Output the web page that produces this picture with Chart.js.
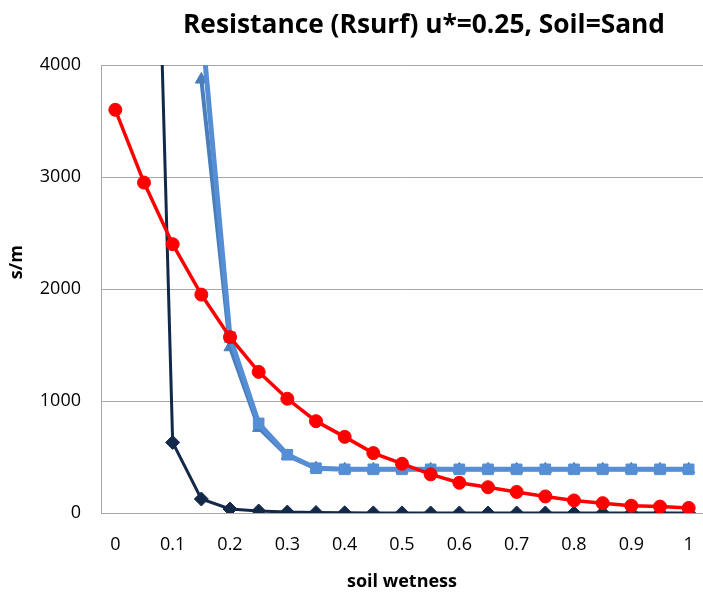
<!DOCTYPE html>
<html>
<head>
<meta charset="utf-8">
<script src="https://cdn.jsdelivr.net/npm/chart.js@4/dist/chart.umd.min.js"></script>
<style>
  html, body { margin: 0; padding: 0; background: #ffffff; }
  #wrap { width: 703px; height: 593px; }
</style>
</head>
<body>
<div id="wrap"><canvas id="c" width="703" height="593"></canvas></div>
<script>
// soil wetness categories (0 .. 1 in steps of 0.05)
const wetness = ['0','0.05','0.1','0.15','0.2','0.25','0.3','0.35','0.4','0.45','0.5',
                 '0.55','0.6','0.65','0.7','0.75','0.8','0.85','0.9','0.95','1'];

// surface resistance, s/m
const rsurfRed = [3600, 2950, 2400, 1950, 1570, 1260, 1020, 820, 680, 535, 440,
                  345, 270, 230, 188, 148, 112, 88, 65, 57, 45];
const rsurfNavy = [null, 9900, 630, 125, 36, 18, 8, 4, 2, 1, 1,
                   0, 0, 0, 0, 0, 0, 0, 0, 0, 0];
const rsurfSquare = [null, null, null, 4400, 1570, 800, 520, 400, 390, 390, 390,
                     390, 390, 390, 390, 390, 390, 390, 390, 390, 390];
const rsurfTriangle = [null, null, null, 3870, 1480, 760, 510, 400, 390, 390, 390,
                       390, 390, 390, 390, 390, 390, 390, 390, 390, 390];

const yTicks = [0, 1000, 2000, 3000, 4000];

const titleText = 'Resistance (Rsurf) u*=0.25, Soil=Sand';
const yLabel = 's/m';
const xLabel = 'soil wetness';

const FONT = '"Open Sans", "DejaVu Sans", sans-serif';

// chart title and rotated y-axis label
const textPlugin = {
  id: 'extraText',
  afterDraw(chart) {
    const ctx = chart.ctx;
    const area = chart.chartArea;
    ctx.save();
    ctx.fillStyle = '#000000';
    ctx.font = 'bold 27px ' + FONT;
    ctx.textAlign = 'center';
    ctx.textBaseline = 'alphabetic';
    ctx.fillText(titleText, 424, 33, 482);
    ctx.translate(17, area.top + (area.bottom - area.top) * 0.44);
    ctx.rotate(-Math.PI / 2);
    ctx.font = 'bold 18px ' + FONT;
    ctx.textBaseline = 'middle';
    ctx.fillText(yLabel, 0, 0);
    ctx.restore();
  }
};

new Chart(document.getElementById('c'), {
  type: 'line',
  data: {
    labels: wetness,
    datasets: [
      {
        data: rsurfRed,
        borderColor: '#ff0000',
        backgroundColor: '#ff0000',
        borderWidth: 3.5,
        pointStyle: 'circle',
        pointRadius: 6.5,
        pointBorderWidth: 1,
        order: 1
      },
      {
        data: rsurfNavy,
        borderColor: '#13294a',
        backgroundColor: '#13294a',
        borderWidth: 3,
        pointStyle: 'rectRot',
        pointRadius: 7,
        pointBorderWidth: 1,
        order: 2
      },
      {
        data: rsurfSquare,
        borderColor: '#558ed5',
        backgroundColor: '#558ed5',
        borderWidth: 5,
        pointStyle: 'rect',
        pointRadius: 7.5,
        pointBorderWidth: 1,
        order: 3
      },
      {
        data: rsurfTriangle,
        borderColor: '#4a7ebb',
        backgroundColor: '#4a7ebb',
        borderWidth: 4,
        pointStyle: 'triangle',
        pointRadius: 7,
        pointBorderWidth: 1,
        order: 4
      }
    ]
  },
  options: {
    responsive: false,
    animation: false,
    layout: { autoPadding: false, padding: { top: 65, right: 0, bottom: 0, left: 0 } },
    plugins: {
      legend: { display: false },
      title: { display: false },
      tooltip: { enabled: false }
    },
    elements: { line: { tension: 0 } },
    scales: {
      x: {
        type: 'category',
        offset: true,
        grid: { display: false, drawTicks: true, tickLength: 21 },
        border: { display: false },
        ticks: {
          autoSkip: false,
          maxRotation: 0,
          padding: 0,
          color: '#000000',
          font: { family: FONT, size: 18 },
          callback: (v, i) => (i % 2 === 0 ? wetness[i] : '')
        },
        title: {
          display: true,
          text: xLabel,
          color: '#000000',
          font: { family: FONT, size: 18, weight: 'bold' },
          padding: { top: 0, bottom: 0 }
        },
        afterFit: s => {
          s.height = 80;
          s.paddingLeft = 0;
          s.paddingRight = 0;
        }
      },
      y: {
        min: 0,
        max: 4000,
        afterBuildTicks: s => { s.ticks = yTicks.map(v => ({ value: v })); },
        grid: { color: '#a6a6a6', lineWidth: 1, drawTicks: false },
        border: { display: true, color: '#a6a6a6', width: 1 },
        ticks: {
          padding: 20,
          color: '#000000',
          font: { family: FONT, size: 18 },
          callback: v => String(v)
        },
        afterFit: s => { s.width = 101; }
      }
    }
  },
  plugins: [textPlugin]
});
</script>
</body>
</html>
